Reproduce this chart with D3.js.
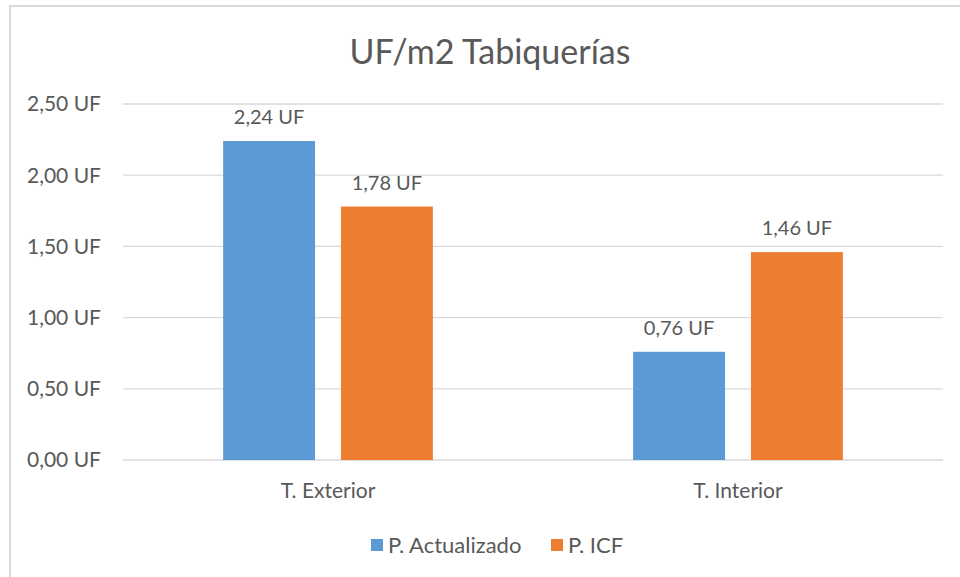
<!DOCTYPE html>
<html>
<head>
<meta charset="utf-8" />
<title>UF/m2 Tabiquerías</title>
<script src="https://d3js.org/d3.v7.min.js"></script>
<style>
  body { margin: 0; background: #fff; }
  text { font-family: Lato, "Open Sans", sans-serif; fill: #595959; }
</style>
</head>
<body>
<svg id="chart" width="960" height="577"></svg>
<script>
// data
var categories = ["T. Exterior", "T. Interior"];
var seriesNames = ["P. Actualizado", "P. ICF"];
var actualizado = [2.24, 0.76];
var icf = [1.78, 1.46];
var yTicks = [0, 0.5, 1, 1.5, 2, 2.5];
var colors = ["#5B9BD5", "#ED7D31"];

var svg = d3.select("#chart");

// chart frame (only left + top visible in the picture)
svg.append("rect")
    .attr("x", 10).attr("y", 6)
    .attr("width", 1000).attr("height", 600)
    .attr("fill", "none")
    .attr("stroke", "#d9d9d9")
    .attr("stroke-width", 2);

var plotLeft = 123, plotRight = 943, plotTop = 104, plotBottom = 460;

var x = d3.scaleBand().domain(categories).range([plotLeft, plotRight]);
var x1 = d3.scaleBand().domain(seriesNames).range([0, x.bandwidth()])
    .paddingInner(0.22).paddingOuter(0.85);
var y = d3.scaleLinear().domain([0, 2.5]).range([plotBottom, plotTop]);

var fmt = function(v) { return d3.format(".2f")(v).replace(".", ",") + " UF"; };

// gridlines
svg.append("g").selectAll("line").data(yTicks).enter().append("line")
    .attr("x1", plotLeft).attr("x2", plotRight)
    .attr("y1", function(d) { return y(d); })
    .attr("y2", function(d) { return y(d); })
    .attr("stroke", "#d9d9d9")
    .attr("stroke-width", 1.3);

// y axis labels
svg.append("g").selectAll("text").data(yTicks).enter().append("text")
    .attr("x", 101)
    .attr("y", function(d) { return y(d); })
    .attr("dy", "0.35em")
    .attr("text-anchor", "end")
    .style("font-size", "21px")
    .text(fmt);

// bars
var rows = categories.map(function(c, i) {
    return { cat: c, values: [actualizado[i], icf[i]] };
});

var groups = svg.append("g").selectAll("g").data(rows).enter().append("g")
    .attr("transform", function(d) { return "translate(" + x(d.cat) + ",0)"; });

groups.selectAll("rect")
    .data(function(d) { return d.values.map(function(v, j) { return { s: seriesNames[j], v: v, j: j }; }); })
    .enter().append("rect")
    .attr("x", function(d) { return x1(d.s); })
    .attr("width", x1.bandwidth())
    .attr("y", function(d) { return y(d.v); })
    .attr("height", function(d) { return y(0) - y(d.v); })
    .attr("fill", function(d) { return colors[d.j]; });

// data labels
groups.selectAll("text.lbl")
    .data(function(d) { return d.values.map(function(v, j) { return { s: seriesNames[j], v: v }; }); })
    .enter().append("text")
    .attr("class", "lbl")
    .attr("x", function(d) { return x1(d.s) + x1.bandwidth() / 2; })
    .attr("y", function(d) { return y(d.v) - 24; })
    .attr("dy", "0.35em")
    .attr("text-anchor", "middle")
    .style("font-size", "20px")
    .text(function(d) { return fmt(d.v); });

// category labels
svg.append("g").selectAll("text").data(categories).enter().append("text")
    .attr("x", function(d) { return x(d) + x.bandwidth() / 2; })
    .attr("y", 491)
    .attr("dy", "0.35em")
    .attr("text-anchor", "middle")
    .style("font-size", "21px")
    .text(function(d) { return d; });

// title
svg.append("text")
    .attr("x", 490).attr("y", 52)
    .attr("dy", "0.35em")
    .attr("text-anchor", "middle")
    .style("font-size", "34px")
    .text("UF/m2 Tabiquerías");

// legend
var legend = svg.append("g");
var legendX = [371, 551];
seriesNames.forEach(function(s, i) {
    legend.append("rect")
        .attr("x", legendX[i]).attr("y", 539)
        .attr("width", 12).attr("height", 12)
        .attr("fill", colors[i]);
    legend.append("text")
        .attr("x", legendX[i] + 17).attr("y", 545)
        .attr("dy", "0.35em")
        .style("font-size", "22px")
        .text(s);
});
</script>
</body>
</html>
